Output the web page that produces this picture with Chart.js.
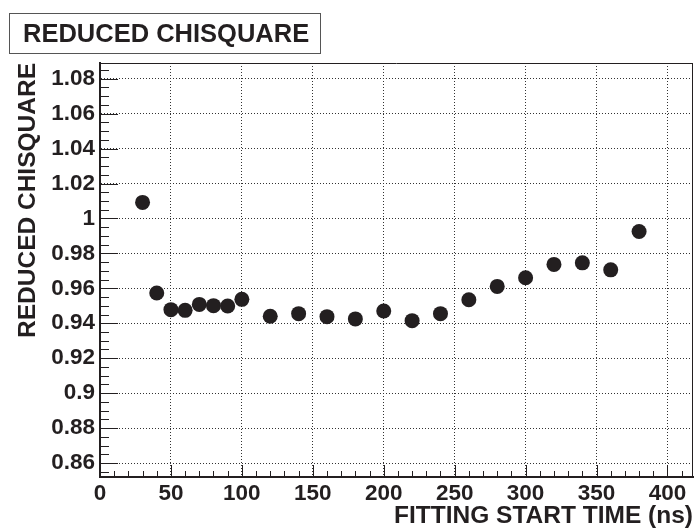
<!DOCTYPE html>
<html><head><meta charset="utf-8">
<script src="https://cdn.jsdelivr.net/npm/chart.js@4"></script>
<style>
html,body{margin:0;padding:0;background:#fff;}
#wrap{position:relative;width:695px;height:529px;overflow:hidden;}
canvas{position:absolute;left:0;top:0;}
#title{position:absolute;left:9px;top:13px;width:312px;height:41px;box-sizing:border-box;border:1px solid #555;
  font:bold 25.5px "Liberation Sans",Arial,sans-serif;color:#231f20;line-height:39px;padding-left:13px;white-space:nowrap;}
</style></head>
<body><div id="wrap"><canvas id="c" width="695" height="529"></canvas><div id="title">REDUCED CHISQUARE</div></div>
<script>
const startTimes = [30,40,50,60,70,80,90,100,120,140,160,180,200,220,240,260,280,300,320,340,360,380];
const chiSquare  = [1.0092,0.9573,0.9478,0.9474,0.9508,0.9501,0.9499,0.9537,0.9440,0.9455,0.9438,0.9425,0.9470,0.9415,0.9455,0.9535,0.9611,0.9661,0.9737,0.9746,0.9706,0.9925];
const xTicks = [0,50,100,150,200,250,300,350,400];
const yTicks = [0.86,0.88,0.90,0.92,0.94,0.96,0.98,1.00,1.02,1.04,1.06,1.08];
const xTitle = 'FITTING START TIME (ns)';
const yTitle = 'REDUCED CHISQUARE';

const INK = '#231f20';
const FONT = '"Liberation Sans", Arial, sans-serif';

const frameAndTicks = {
  id: 'frameAndTicks',
  beforeDatasetsDraw(chart) {
    const {ctx, chartArea: a, scales: {x, y}} = chart;
    ctx.save();
    ctx.strokeStyle = INK;
    ctx.lineWidth = 1;
    ctx.beginPath();
    const yStep = (yTicks[1] - yTicks[0]) / 4;
    for (let k = -8; k <= yTicks.length * 4 + 8; k++) {
      const v = yTicks[0] + k * yStep;
      if (v < y.min || v > y.max) continue;
      const p = Math.round(y.getPixelForValue(v)) + 0.5;
      const len = (k % 4 === 0) ? 18 : 9;
      ctx.moveTo(a.left, p); ctx.lineTo(a.left + len, p);
    }
    const xStep = (xTicks[1] - xTicks[0]) / 5;
    for (let k = 0; k <= xTicks.length * 5 + 5; k++) {
      const v = xTicks[0] + k * xStep;
      if (v < x.min || v > x.max) continue;
      const p = Math.round(x.getPixelForValue(v)) + 0.5;
      const len = (k % 5 === 0) ? 12 : 6;
      ctx.moveTo(p, a.bottom); ctx.lineTo(p, a.bottom - len);
    }
    ctx.stroke();
    ctx.beginPath();
    ctx.moveTo(a.left, a.top + 0.5); ctx.lineTo(a.right, a.top + 0.5);
    ctx.moveTo(a.right - 0.5, a.top); ctx.lineTo(a.right - 0.5, a.bottom);
    ctx.stroke();
    ctx.restore();
  }
};

new Chart(document.getElementById('c'), {
  type: 'scatter',
  data: {
    datasets: [{
      data: startTimes.map((t, i) => ({x: t, y: chiSquare[i]})),
      pointStyle: 'circle',
      pointRadius: 7.5,
      pointHoverRadius: 7.5,
      backgroundColor: INK,
      borderColor: INK,
      borderWidth: 0
    }]
  },
  options: {
    responsive: false,
    animation: false,
    devicePixelRatio: 1,
    events: [],
    layout: {autoPadding: false, padding: {top: 63, right: 2, left: 0, bottom: 0}},
    plugins: {legend: {display: false}, tooltip: {enabled: false}, title: {display: false}},
    scales: {
      x: {
        type: 'linear', min: 0, max: 418,
        afterBuildTicks: s => { s.ticks = xTicks.map(v => ({value: v})); },
        afterFit: s => { s.height = 52; s.paddingLeft = 0; s.paddingRight = 0; },
        ticks: {font: {family: FONT, size: 22.5, weight: 'bold'}, color: INK, padding: 3, maxRotation: 0, autoSkip: false,
                callback: v => String(v)},
        grid: {color: '#333', lineWidth: 1, drawTicks: false},
        border: {display: true, color: INK, width: 2, dash: [1, 2]},
        title: {display: true, text: xTitle, align: 'end', color: INK,
                font: {family: FONT, size: 24.5, weight: 'bold', lineHeight: 1}, padding: {top: 0, bottom: 1}}
      },
      y: {
        type: 'linear', min: 0.852, max: 1.089,
        afterBuildTicks: s => { s.ticks = yTicks.map(v => ({value: v})); },
        afterFit: s => { s.width = 100; s.paddingTop = 0; s.paddingBottom = 0; },
        ticks: {font: {family: FONT, size: 22.5, weight: 'bold'}, color: INK, padding: 5, autoSkip: false,
                callback: v => String(parseFloat(Number(v).toFixed(3)))},
        grid: {color: '#333', lineWidth: 1, drawTicks: false},
        border: {display: true, color: INK, width: 2, dash: [1, 2]},
        title: {display: true, text: yTitle, align: 'end', color: INK,
                font: {family: FONT, size: 24.5, weight: 'bold', lineHeight: 1}, padding: {top: 16, bottom: 0}}
      }
    }
  },
  plugins: [frameAndTicks]
});
</script>
</body></html>
